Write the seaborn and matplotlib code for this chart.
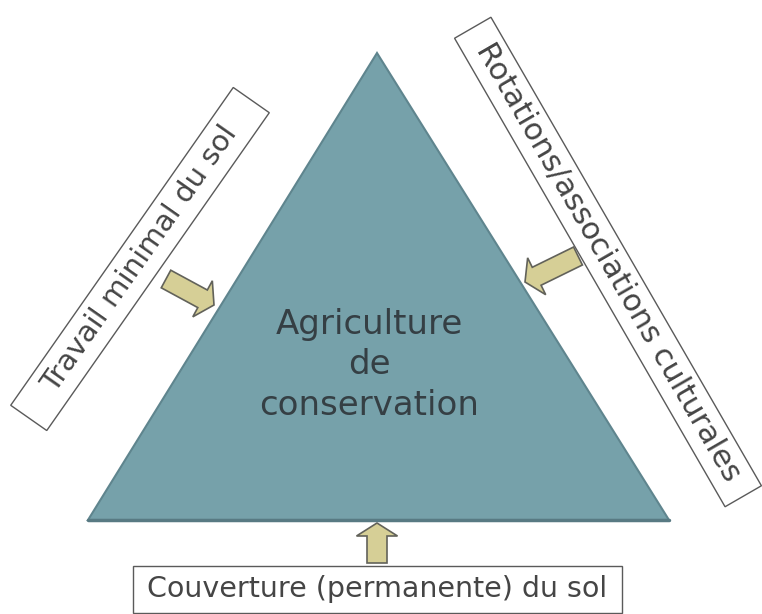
import numpy as np
import matplotlib
matplotlib.use("Agg")
import matplotlib.pyplot as plt
from matplotlib.patches import Polygon, FancyArrow
import seaborn as sns

sns.set_theme(style="white")
plt.rcParams['font.family'] = ['DejaVu Sans']

# diagram content
centre_lines = ["Agriculture", "de", "conservation"]
pillars = ["Travail minimal du sol",
           "Rotations/associations culturales",
           "Couverture (permanente) du sol"]

# layout (pixel space, y pointing down)
apex, base_l, base_r = (377, 53), (88, 520), (669, 520)
boxes = [  # centre x, centre y, length, width, angle (deg, display)
    (140, 259, 388, 44, 55),
    (608, 262, 541, 42, -60),
    (377.5, 589, 489, 47, 0),
]
font_sizes = [21, 22, 20.5]
arrows = [  # tail x, tail y, tip x, tip y
    (166, 279, 214, 305),
    (578, 256, 525, 282),
    (377, 563, 377, 523),
]

tri_face = "#76a1aa"
tri_edge = "#5f858e"
arrow_face = "#d6cf96"
arrow_edge = "#62625a"
box_edge = "#5a5a5a"
text_col = "#454545"

fig = plt.figure(figsize=(7.62, 6.14), dpi=100)
ax = fig.add_axes([0, 0, 1, 1])
ax.set_xlim(0, 762)
ax.set_ylim(614, 0)
ax.axis("off")

ax.add_patch(Polygon([apex, base_l, base_r], closed=True,
                     facecolor=tri_face, edgecolor=tri_edge, lw=1.5))
ax.plot([base_l[0], base_r[0]], [base_l[1], base_r[1]], color="#587a83", lw=2.5)

ax.text(369, 365, "\n".join(centre_lines), ha="center", va="center",
        fontsize=24.5, color="#353f44", linespacing=1.27)

for (cx, cy, L, W, ang), label, fs in zip(boxes, pillars, font_sizes):
    t = np.deg2rad(ang)
    u = np.array([np.cos(t), -np.sin(t)])
    v = np.array([np.sin(t), np.cos(t)])
    c = np.array([cx, cy])
    corners = [c - u * L / 2 - v * W / 2, c + u * L / 2 - v * W / 2,
               c + u * L / 2 + v * W / 2, c - u * L / 2 + v * W / 2]
    ax.add_patch(Polygon(corners, closed=True, facecolor="white",
                         edgecolor=box_edge, lw=1.0))
    ax.text(cx, cy, label, ha="center", va="center", rotation=ang,
            rotation_mode="anchor", fontsize=fs, color=text_col)

for x0, y0, x1, y1 in arrows:
    ax.add_patch(FancyArrow(x0, y0, x1 - x0, y1 - y0, width=20,
                            head_width=41, head_length=13,
                            length_includes_head=True,
                            facecolor=arrow_face, edgecolor=arrow_edge, lw=1.2))

fig.savefig("out.png", dpi=100, facecolor="white")
